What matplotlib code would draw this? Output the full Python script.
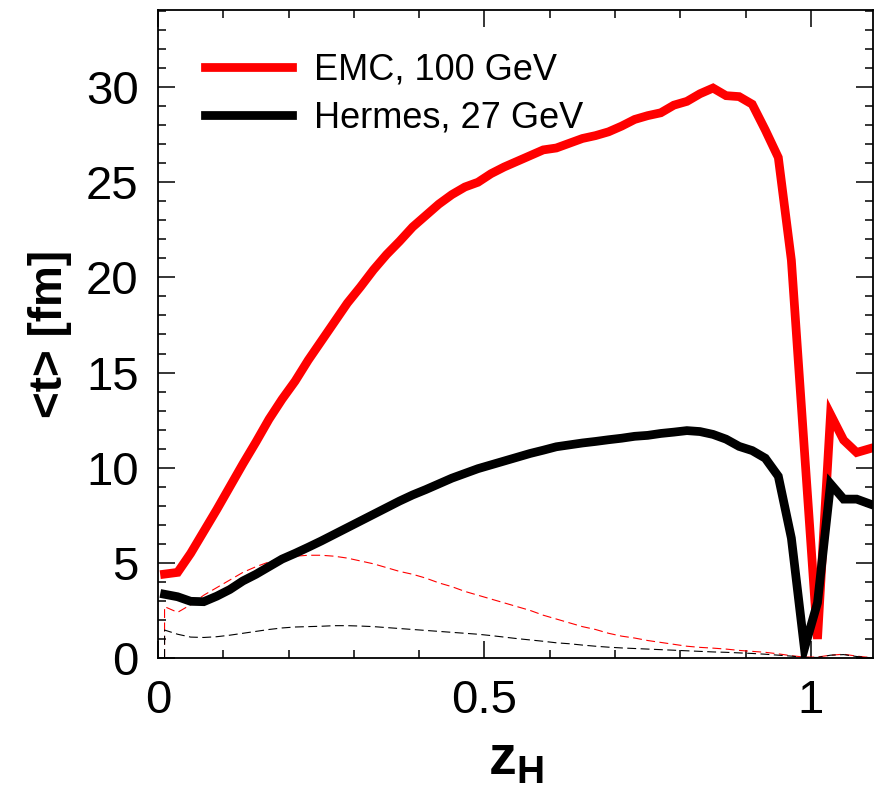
import numpy as np
import matplotlib.pyplot as plt
from matplotlib.ticker import MultipleLocator, FixedLocator, FixedFormatter

# z_H bins (centres)
z = [0.01, 0.03, 0.05, 0.07, 0.09, 0.11, 0.13, 0.15, 0.17, 0.19,
     0.21, 0.23, 0.25, 0.27, 0.29, 0.31, 0.33, 0.35, 0.37, 0.39,
     0.41, 0.43, 0.45, 0.47, 0.49, 0.51, 0.53, 0.55, 0.57, 0.59,
     0.61, 0.63, 0.65, 0.67, 0.69, 0.71, 0.73, 0.75, 0.77, 0.79,
     0.81, 0.83, 0.85, 0.87, 0.89, 0.91, 0.93, 0.95, 0.97, 0.99,
     1.01, 1.03, 1.05, 1.07, 1.09]

# <t> in fm, EMC 100 GeV
emc = [4.41, 4.5, 5.5, 6.65, 7.8, 9.0, 10.2, 11.35, 12.55, 13.6,
       14.55, 15.65, 16.65, 17.65, 18.65, 19.5, 20.4, 21.2, 21.9, 22.65,
       23.25, 23.85, 24.35, 24.75, 25.0, 25.45, 25.8, 26.1, 26.4, 26.7,
       26.8, 27.05, 27.3, 27.45, 27.65, 27.95, 28.3, 28.5, 28.65, 29.05,
       29.25, 29.65, 29.95, 29.55, 29.5, 29.1, 27.75, 26.3, 20.9, 10.9,
       1.0, 12.8, 11.45, 10.8, 11.0]

# <t> in fm, Hermes 27 GeV
hermes = [3.35, 3.22, 2.98, 2.96, 3.25, 3.6, 4.05, 4.4, 4.8, 5.2,
          5.5, 5.82, 6.15, 6.5, 6.85, 7.2, 7.55, 7.9, 8.25, 8.57,
          8.85, 9.15, 9.45, 9.7, 9.95, 10.15, 10.35, 10.55, 10.75, 10.92,
          11.1, 11.2, 11.3, 11.38, 11.47, 11.55, 11.65, 11.7, 11.8, 11.87,
          11.95, 11.9, 11.75, 11.5, 11.12, 10.9, 10.5, 9.55, 6.3, 0.5,
          2.9, 9.15, 8.35, 8.35, 8.1]

# spread (thin dashed curves)
emc_width = [2.7, 2.4, 2.8, 3.3, 3.7, 4.1, 4.5, 4.8, 5.05, 5.25,
             5.35, 5.4, 5.4, 5.35, 5.25, 5.1, 4.95, 4.75, 4.55, 4.4,
             4.2, 3.95, 3.75, 3.5, 3.3, 3.1, 2.9, 2.7, 2.5, 2.25,
             2.05, 1.85, 1.65, 1.5, 1.3, 1.15, 1.05, 0.92, 0.82, 0.72,
             0.62, 0.56, 0.52, 0.47, 0.4, 0.35, 0.3, 0.22, 0.12, 0.05,
             0.05, 0.15, 0.2, 0.1, 0.03]

hermes_width = [1.47, 1.25, 1.1, 1.08, 1.12, 1.2, 1.3, 1.4, 1.5, 1.58,
                1.63, 1.65, 1.67, 1.7, 1.7, 1.68, 1.65, 1.6, 1.55, 1.5,
                1.45, 1.4, 1.35, 1.3, 1.25, 1.18, 1.1, 1.02, 0.95, 0.88,
                0.8, 0.75, 0.68, 0.62, 0.57, 0.53, 0.5, 0.47, 0.44, 0.41,
                0.38, 0.35, 0.32, 0.3, 0.27, 0.24, 0.2, 0.15, 0.1, 0.03,
                0.03, 0.15, 0.18, 0.08, 0.02]

labels = ['EMC, 100 GeV', 'Hermes, 27 GeV']

plt.rcParams['font.family'] = ['Liberation Sans', 'DejaVu Sans']
plt.rcParams['mathtext.fontset'] = 'custom'
plt.rcParams['mathtext.rm'] = 'Liberation Sans'
plt.rcParams['mathtext.bf'] = 'Liberation Sans:bold'

fig = plt.figure(figsize=(8.75, 7.89), dpi=100)
ax = fig.add_axes([0.1806, 0.166, 0.8171, 0.8213])

ax.plot([z[0]] + z, [0.0] + emc_width, color='red', lw=0.8, dashes=(8, 4))
ax.plot([z[0]] + z, [0.0] + hermes_width, color='black', lw=0.8, dashes=(8, 4))
ax.plot(z, emc, color='red', lw=6.3, solid_joinstyle='miter', label=labels[0])
ax.plot(z, hermes, color='black', lw=6.3, solid_joinstyle='miter', label=labels[1])

ax.set_xlim(0, 1.095)
ax.set_ylim(0, 34.05)

ax.xaxis.set_major_locator(FixedLocator([0, 0.5, 1]))
ax.xaxis.set_major_formatter(FixedFormatter(['0', '0.5', '1']))
ax.xaxis.set_minor_locator(MultipleLocator(0.1))
ax.yaxis.set_major_locator(MultipleLocator(5))
ax.yaxis.set_minor_locator(MultipleLocator(1))

ax.tick_params(which='both', direction='in', top=True, right=True, width=1.1)
ax.tick_params(which='major', length=12, labelsize=34)
ax.tick_params(which='minor', length=6)
ax.tick_params(axis='x', which='major', pad=15)
ax.tick_params(axis='y', which='major', pad=14)
for s in ax.spines.values():
    s.set_linewidth(1.3)

ax.set_ylabel('<t> [fm]', fontsize=33, fontweight='bold', labelpad=10)
ax.set_xlabel(r'$\mathbf{z}_\mathbf{H}$', fontsize=40, labelpad=8)

ax.legend(loc='upper left', bbox_to_anchor=(0.066, 0.935), frameon=False,
          fontsize=26, handlelength=2.4, handletextpad=0.6, labelspacing=0.38,
          borderpad=0, borderaxespad=0)

fig.savefig('out.png', dpi=100)
